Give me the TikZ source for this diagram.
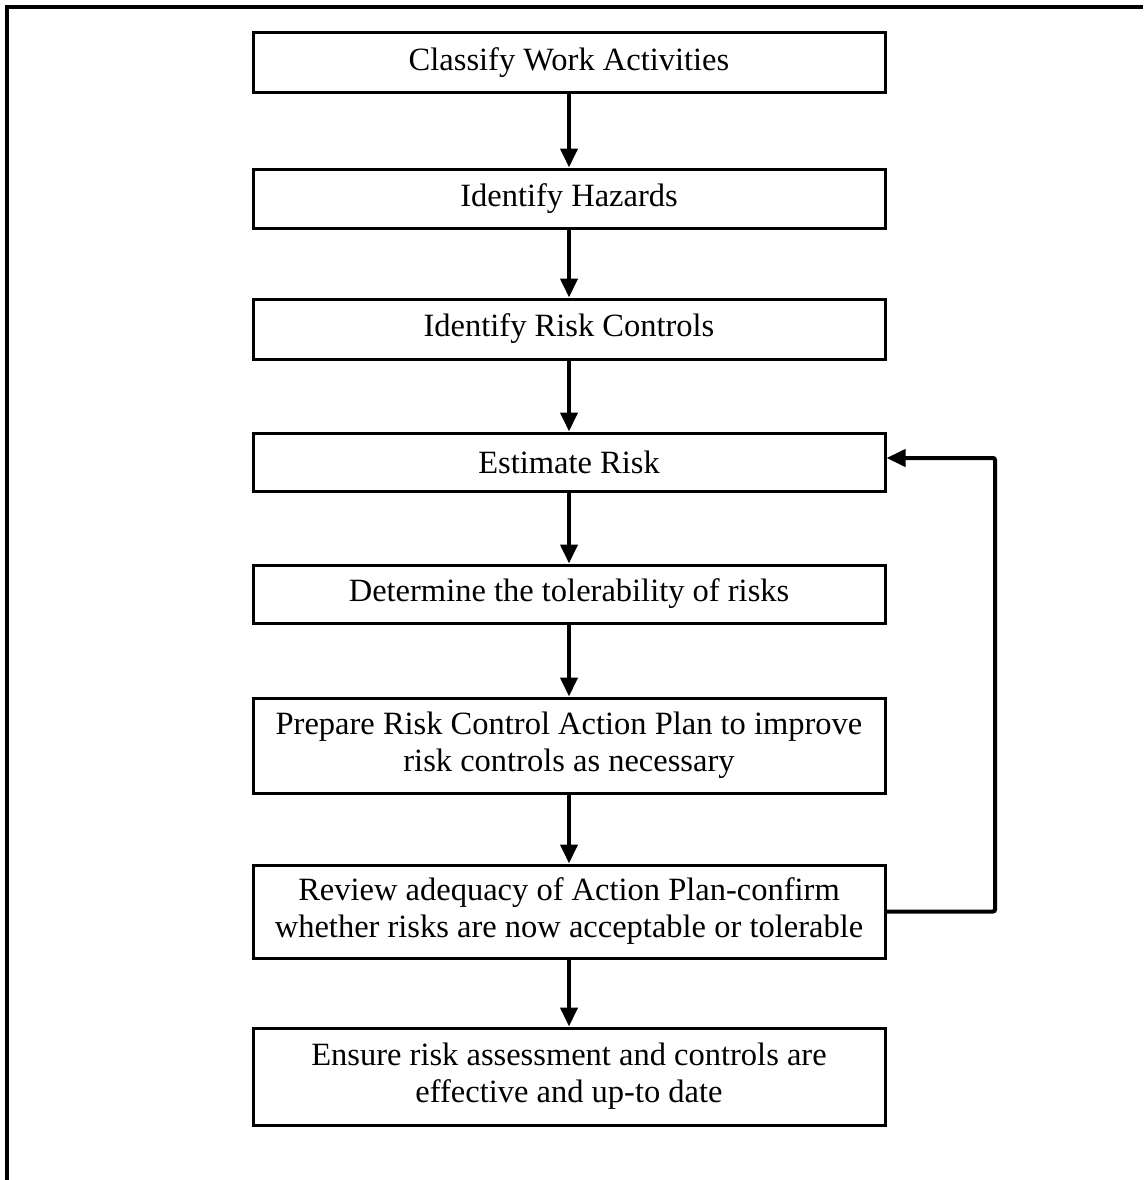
\documentclass[tikz,border=0pt]{standalone}
\usepackage{fontspec}
\setmainfont{Liberation Serif}
\usetikzlibrary{arrows.meta}
\tikzset{
  stepbox/.style={draw, line width=3pt, minimum width=632pt, inner sep=0pt,
    align=center, font=\fontsize{32.5pt}{37pt}\selectfont},
  flow/.style={line width=4pt, -{Triangle[width=17pt,length=19pt]}},
  frame/.style={line width=4.5pt}
}
\begin{document}
\begin{tikzpicture}[x=1pt,y=-1pt]
  \useasboundingbox (0,0) rectangle (1143,1180);
  % outer frame (top and left edges)
  \draw[frame] (7,1180) -- (7,7) -- (1143,7);

  \node[stepbox, minimum height=60pt] (b1) at (569,63) {Classify Work Activities};
  \node[stepbox, minimum height=59pt] (b2) at (569,198.5) {Identify Hazards};
  \node[stepbox, minimum height=60pt] (b3) at (569,329) {Identify Risk Controls};
  \node[stepbox, minimum height=58pt] (b4) at (569,462) {Estimate Risk};
  \node[stepbox, minimum height=58pt] (b5) at (569,594) {Determine the tolerability of risks};
  \node[stepbox, minimum height=95pt] (b6) at (569,745.5) {Prepare Risk Control Action Plan to improve\\risk controls as necessary};
  \node[stepbox, minimum height=93pt] (b7) at (569,911.5) {Review adequacy of Action Plan-confirm\\whether risks are now acceptable or tolerable};
  \node[stepbox, minimum height=97pt] (b8) at (569,1076.5) {Ensure risk assessment and controls are\\effective and up-to date};

  \draw[flow] (b1) -- (b2);
  \draw[flow] (b2) -- (b3);
  \draw[flow] (b3) -- (b4);
  \draw[flow] (b4) -- (b5);
  \draw[flow] (b5) -- (b6);
  \draw[flow] (b6) -- (b7);
  \draw[flow] (b7) -- (b8);

  % feedback loop from the review step back to risk estimation
  \coordinate (loopbot) at (995,911.5);
  \coordinate (looptop) at (995,458);
  \draw[flow, rounded corners=2pt] (b7.east) -- (loopbot) -- (looptop) -- (b4.east |- looptop);
\end{tikzpicture}
\end{document}
